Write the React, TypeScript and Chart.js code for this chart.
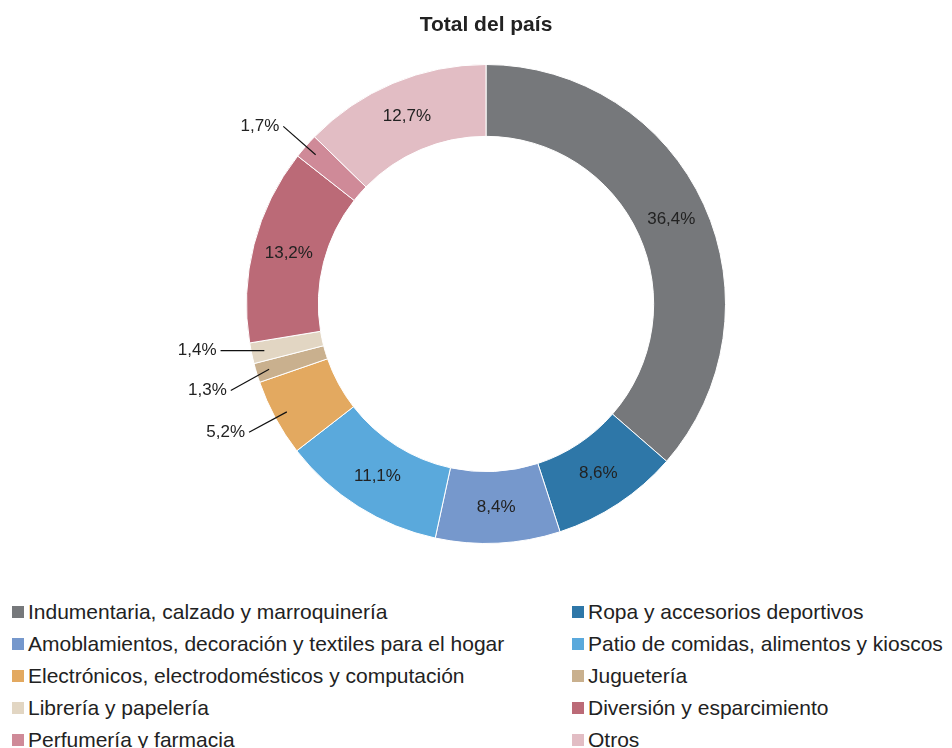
import React, { useEffect, useRef } from "react";
import { Chart, registerables } from "chart.js";

Chart.register(...registerables);

const title = "Total del país";
const categories = [
  "Indumentaria, calzado y marroquinería",
  "Ropa y accesorios deportivos",
  "Amoblamientos, decoración y textiles para el hogar",
  "Patio de comidas, alimentos y kioscos",
  "Electrónicos, electrodomésticos y computación",
  "Juguetería",
  "Librería y papelería",
  "Diversión y esparcimiento",
  "Perfumería y farmacia",
  "Otros",
];
const values = [36.4, 8.6, 8.4, 11.1, 5.2, 1.3, 1.4, 13.2, 1.7, 12.7];
const colors = [
  "#76787b",
  "#2e77a8",
  "#7698cc",
  "#5aa9dc",
  "#e3a960",
  "#c9b08e",
  "#e2d6c3",
  "#bb6a77",
  "#cf8a98",
  "#e2bdc4",
];

const FONT = "'Liberation Sans', Arial, Helvetica, sans-serif";

const fmt = (v: number) => v.toFixed(1).replace(".", ",") + "%";

const labelPlugin = {
  id: "sliceLabels",
  afterDatasetsDraw(chart: any) {
    const ctx = chart.ctx;
    const meta = chart.getDatasetMeta(0);
    ctx.save();
    ctx.font = `17px ${FONT}`;
    ctx.fillStyle = "#222";
    ctx.strokeStyle = "#111";
    ctx.lineWidth = 1.2;
    const outside: any[] = [];
    meta.data.forEach((arc: any, i: number) => {
      const p = arc.getProps(["x", "y", "startAngle", "endAngle", "innerRadius", "outerRadius"], true);
      const mid = (p.startAngle + p.endAngle) / 2;
      const v = values[i];
      const txt = fmt(v);
      if (v >= 5.5) {
        const r = (p.innerRadius + p.outerRadius) / 2;
        ctx.textAlign = "center";
        ctx.textBaseline = "middle";
        ctx.fillText(txt, p.x + r * Math.cos(mid), p.y + r * Math.sin(mid));
      } else {
        const r0 = p.outerRadius - 13;
        const R = p.outerRadius + 30;
        outside.push({
          txt,
          cx: p.x,
          cy: p.y,
          R,
          x0: p.x + r0 * Math.cos(mid),
          y0: p.y + r0 * Math.sin(mid),
          y1: p.y + R * Math.sin(mid),
          left: Math.cos(mid) < 0,
        });
      }
    });
    // spread overlapping outside labels vertically
    const gap = 40;
    const sides = [outside.filter((o) => o.left), outside.filter((o) => !o.left)];
    sides.forEach((list) => {
      list.sort((a, b) => a.y1 - b.y1);
      for (let iter = 0; iter < 20; iter++) {
        for (let k = 1; k < list.length; k++) {
          const d = list[k].y1 - list[k - 1].y1;
          if (d < gap) {
            const push = (gap - d) / 2;
            list[k - 1].y1 -= push;
            list[k].y1 += push;
          }
        }
      }
    });
    outside.forEach((o) => {
      const dy = o.y1 - o.cy;
      const dx = Math.sqrt(Math.max(o.R * o.R - dy * dy, 0));
      const x1 = o.left ? o.cx - dx : o.cx + dx;
      ctx.beginPath();
      ctx.moveTo(o.x0, o.y0);
      ctx.lineTo(x1, o.y1);
      ctx.stroke();
      ctx.textAlign = o.left ? "right" : "left";
      ctx.textBaseline = "middle";
      ctx.fillText(o.txt, x1 + (o.left ? -4 : 4), o.y1);
    });
    // title
    ctx.font = `bold 21px ${FONT}`;
    ctx.fillStyle = "#222";
    ctx.textAlign = "center";
    ctx.textBaseline = "middle";
    const cx = (chart.chartArea.left + chart.chartArea.right) / 2;
    ctx.fillText(title, cx, 25);
    ctx.restore();
  },
};

export default function App() {
  const ref = useRef<HTMLCanvasElement>(null);
  useEffect(() => {
    document.body.style.margin = "0";
    const chart = new Chart(ref.current!, {
      type: "doughnut",
      data: {
        labels: categories,
        datasets: [
          {
            data: values,
            backgroundColor: colors,
            borderColor: "#ffffff",
            borderWidth: 1,
          },
        ],
      },
      options: {
        animation: false,
        responsive: false,
        cutout: "70%",
        layout: { padding: { top: 64, bottom: 46, left: 20, right: 0 } },
        plugins: {
          legend: { display: false },
          tooltip: { enabled: false },
          title: { display: false },
        },
      },
      plugins: [labelPlugin],
    });
    return () => chart.destroy();
  }, []);

  return (
    <div style={{ position: "relative", width: 952, height: 748, overflow: "hidden", background: "#fff" }}>
      <canvas ref={ref} width={952} height={590} style={{ position: "absolute", left: 0, top: 0 }} />
      <div
        style={{
          position: "absolute",
          left: 12,
          top: 596,
          display: "grid",
          gridTemplateColumns: "560px 380px",
          fontFamily: FONT,
          fontSize: 21,
          color: "#222",
        }}
      >
        {categories.map((c, i) => (
          <div key={c} style={{ height: 32, display: "flex", alignItems: "center", whiteSpace: "nowrap" }}>
            <span style={{ width: 12, height: 12, background: colors[i], display: "inline-block", marginRight: 4, flexShrink: 0 }} />
            <span>{c}</span>
          </div>
        ))}
      </div>
    </div>
  );
}
